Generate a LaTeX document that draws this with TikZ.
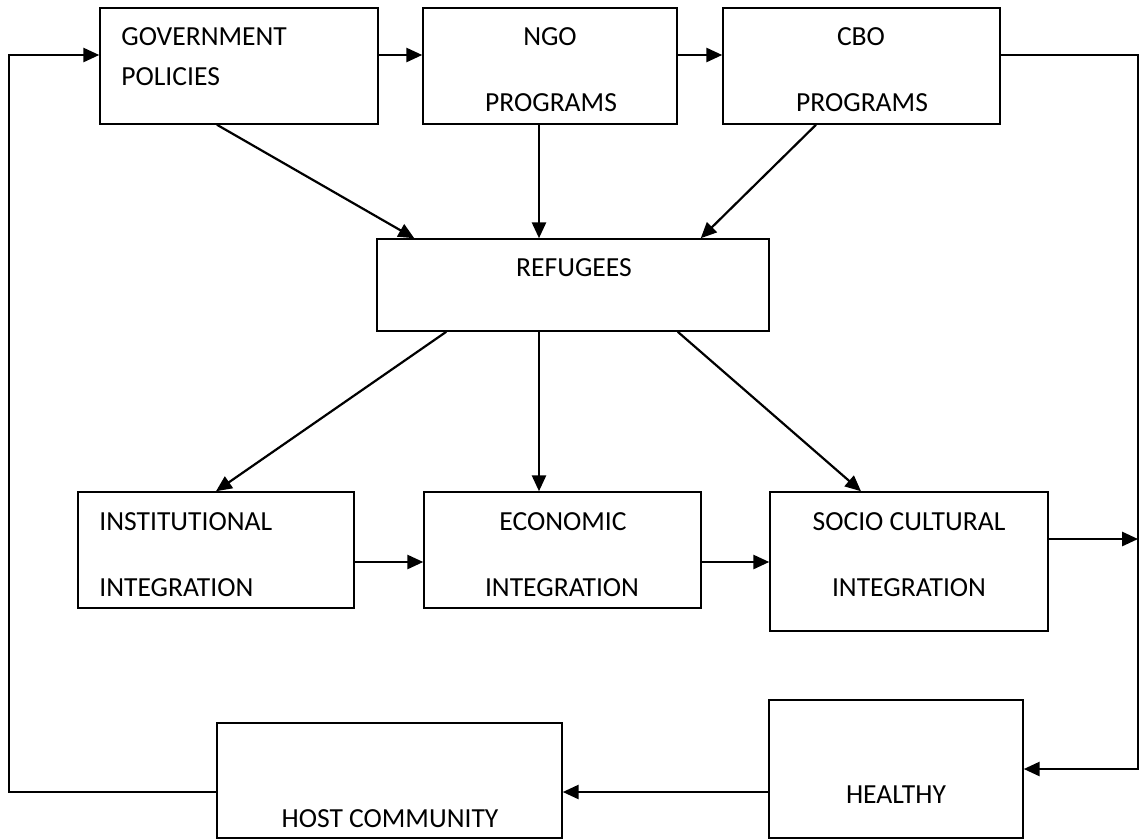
\documentclass[tikz,border=0pt]{standalone}
\usepackage{fontspec}
\setmainfont{Carlito}
\usetikzlibrary{arrows.meta,calc}

\begin{document}
\begin{tikzpicture}[x=0.02cm,y=-0.02cm,
  every node/.style={font=\fontsize{15.7}{18}\selectfont},
  bx/.style={draw,line width=0.9pt,inner sep=0pt},
  tx/.style={inner sep=0pt,anchor=base},
  ar/.style={line width=1.25pt,-{Triangle[length=9pt,width=8pt]}}]
 \useasboundingbox (0,0) rectangle (1142,839);
 % boxes
 \node[bx,minimum width=5.56cm,minimum height=2.32cm] (gov)   at (239,66) {};
 \node[bx,minimum width=5.08cm,minimum height=2.32cm] (ngo)   at (550,66) {};
 \node[bx,minimum width=5.54cm,minimum height=2.32cm] (cbo)   at (861.5,66) {};
 \node[bx,minimum width=7.84cm,minimum height=1.84cm] (ref)   at (573,285) {};
 \node[bx,minimum width=5.52cm,minimum height=2.32cm] (inst)  at (216,550) {};
 \node[bx,minimum width=5.54cm,minimum height=2.32cm] (econ)  at (562.5,550) {};
 \node[bx,minimum width=5.56cm,minimum height=2.78cm] (socio) at (909,561.5) {};
 \node[bx,minimum width=6.90cm,minimum height=2.30cm] (host)  at (389.5,780.5) {};
 \node[bx,minimum width=5.08cm,minimum height=2.76cm] (heal)  at (896,769) {};
 % texts
 \node[tx,anchor=base west] (gov1) at (121,45) {GOVERNMENT};
 \node[tx,anchor=base west] (gov2) at (121,85) {POLICIES};
 \node[tx] (ngo1) at (550,45) {NGO};
 \node[tx] (ngo2) at (551,111) {PROGRAMS};
 \node[tx] (cbo1) at (861,45) {CBO};
 \node[tx] (cbo2) at (862,111) {PROGRAMS};
 \node[tx] (ref1) at (574,276) {REFUGEES};
 \node[tx,anchor=base west] (inst1) at (99,530) {INSTITUTIONAL};
 \node[tx,anchor=base west] (inst2) at (99,596) {INTEGRATION};
 \node[tx] (econ1) at (563,530) {ECONOMIC};
 \node[tx] (econ2) at (562,596) {INTEGRATION};
 \node[tx] (socio1) at (909,530) {SOCIO CULTURAL};
 \node[tx] (socio2) at (909,596) {INTEGRATION};
 \node[tx] (host1) at (390,827) {HOST COMMUNITY};
 \node[tx] (heal1) at (896,803) {HEALTHY};
 % connectors
 \coordinate (top) at (0,55);
 \coordinate (mid) at (0,562);
 \coordinate (bot) at (9,792);
 \coordinate (rt) at (1138,55);
 \coordinate (rs) at (1138,539);
 \coordinate (rb) at (1138,769);
 \coordinate (nx) at ($(ngo.south)+(-11,0)$);
 \foreach \a/\b/\c in {gov/ngo/top,ngo/cbo/top,inst/econ/mid,econ/socio/mid}
   \draw[ar] (\a.east |- \c) -- (\b.west |- \c);
 \draw[ar] (host.west |- bot) -- (bot) -- (bot |- top) -- (gov.west |- top);
 \draw[ar] (cbo.east |- rt) -- (rt) -- (rb) -- (heal.east |- rb);
 \draw[ar] (socio.east |- rs) -- (rs);
 \draw[ar] (heal.west |- bot) -- (host.east |- bot);
 \draw[ar] ($(gov.south)+(-22,0)$) -- ($(ref.north west)+(38,0)$);
 \draw[ar] (nx) -- (nx |- ref.north);
 \draw[ar] ($(cbo.south)+(-45.5,0)$) -- ($(ref.north east)+(-69,0)$);
 \draw[ar] ($(ref.south west)+(70,0)$) -- (inst.north);
 \draw[ar] (nx |- ref.south) -- (nx |- econ.north);
 \draw[ar] ($(ref.south east)+(-92,0)$) -- ($(socio.north)+(-48,0)$);
\end{tikzpicture}
\end{document}
